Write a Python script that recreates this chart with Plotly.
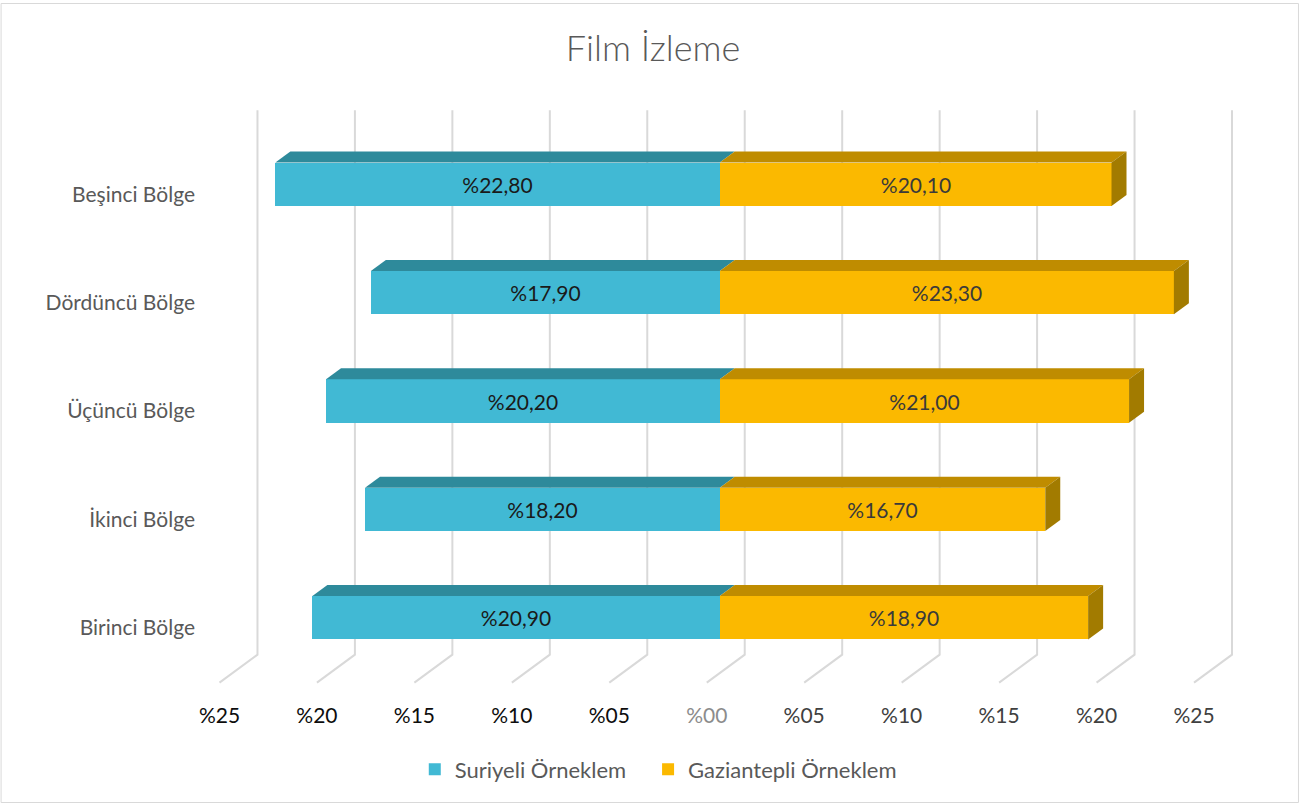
import plotly.graph_objects as go

categories = ["Birinci Bölge", "İkinci Bölge", "Üçüncü Bölge", "Dördüncü Bölge", "Beşinci Bölge"]
suriyeli = [20.9, 18.2, 20.2, 17.9, 22.8]
gaziantep = [18.9, 16.7, 21.0, 23.3, 20.1]
tick_vals = [-25, -20, -15, -10, -5, 0, 5, 10, 15, 20, 25]
tick_text = ["%25", "%20", "%15", "%10", "%05", "%00", "%05", "%10", "%15", "%20", "%25"]

W, H = 1301, 805
PXU_X = 19.5          # pixels per x unit
ZERO_PX = 720
PXU_Y = 108.5
X0, X1 = -(ZERO_PX - 190) / PXU_X, 27.0
Y0, Y1 = -0.75, 4.75
ml = ZERO_PX + X0 * PXU_X
mr = W - (ZERO_PX + X1 * PXU_X)
mt = 102.6
mb = H - (mt + (Y1 - Y0) * PXU_Y)

C_SUR, C_SUR_TOP = "#41B9D4", "#2E8A9B"
C_GAZ, C_GAZ_TOP, C_GAZ_SIDE = "#FBB900", "#BF8C00", "#A27B00"
FONT = "Lato"
BW = 0.4
DX, DY = 15 / PXU_X, 11 / PXU_Y

def fmt(v):
    return "%" + f"{v:.2f}".replace(".", ",")

ys = list(range(len(categories)))
fig = go.Figure()
fig.add_trace(go.Bar(
    y=ys, x=[-v for v in suriyeli], orientation="h", width=BW,
    marker=dict(color=C_SUR, line=dict(width=0)),
    name="Suriyeli Örneklem&nbsp;&nbsp;&nbsp;",
    text=[fmt(v) for v in suriyeli], textposition="inside", insidetextanchor="middle",
    textfont=dict(family=FONT, size=21, color="#1a1a1a"), hoverinfo="skip"))
fig.add_trace(go.Bar(
    y=ys, x=gaziantep, orientation="h", width=BW,
    marker=dict(color=C_GAZ, line=dict(width=0)), name="Gaziantepli Örneklem",
    text=[fmt(v) for v in gaziantep], textposition="inside", insidetextanchor="middle",
    textfont=dict(family=FONT, size=21, color="#3a3a3a"), hoverinfo="skip"))

shapes = []
# 3D gridlines: back wall vertical + floor diagonal
gx_back = 25 / PXU_X
gx_front = -13 / PXU_X
y_top = 4 + (184 - 110) / PXU_Y
y_back = (618 - 655) / PXU_Y
y_front = (618 - 683) / PXU_Y
for v in tick_vals:
    path = (f"M {v+gx_back},{y_top} L {v+gx_back},{y_back} "
            f"L {v+gx_front},{y_front}")
    shapes.append(dict(type="path", path=path, xref="x", yref="y",
                       line=dict(color="#D9D9D9", width=2), layer="below"))

for i, (s, g) in enumerate(zip(suriyeli, gaziantep)):
    top = i + BW / 2
    bot = i - BW / 2
    shapes.append(dict(type="path", xref="x", yref="y", layer="above", line=dict(width=0),
                       fillcolor=C_SUR_TOP,
                       path=f"M {-s},{top} L 0,{top} L {DX},{top+DY} L {-s+DX},{top+DY} Z"))
    shapes.append(dict(type="path", xref="x", yref="y", layer="above", line=dict(width=0),
                       fillcolor=C_GAZ_TOP,
                       path=f"M 0,{top} L {g},{top} L {g+DX},{top+DY} L {DX},{top+DY} Z"))
    shapes.append(dict(type="path", xref="x", yref="y", layer="above", line=dict(width=0),
                       fillcolor=C_GAZ_SIDE,
                       path=f"M {g},{bot} L {g},{top} L {g+DX},{top+DY} L {g+DX},{bot+DY} Z"))

pw = W - ml - mr
ph = H - mt - mb
shapes.append(dict(type="rect", xref="paper", yref="paper",
                   x0=(1 - ml) / pw, x1=(W - 2 - ml) / pw,
                   y0=-(H - 2 - mt - ph) / ph,
                   y1=1 + (mt - 3) / ph,
                   line=dict(color="#D9D9D9", width=1), layer="below"))

def tcol(v, t):
    if v < 0:
        return f"<span style='color:#0d0d0d'>{t}</span>"
    if v == 0:
        return f"<span style='color:#8c8c8c'>{t}</span>"
    return f"<span style='color:#404040'>{t}</span>"

ticktext_col = [tcol(v, t) for v, t in zip(tick_vals, tick_text)]

fig.update_layout(
    width=W, height=H,
    margin=dict(l=ml, r=mr, t=mt, b=mb, autoexpand=False),
    paper_bgcolor="white", plot_bgcolor="white",
    barmode="overlay", bargap=0,
    title=dict(text="Film İzleme", x=653 / W, xanchor="center", y=1 - 48 / H, yanchor="middle",
               font=dict(family=FONT, size=36, color="#595959", weight=300), automargin=False),
    xaxis=dict(range=[X0, X1], showgrid=False, zeroline=False, showline=False, automargin=False,
               tickvals=tick_vals, ticktext=ticktext_col, ticks="",
               tickfont=dict(family=FONT, size=21, color="#404040"),
               ticklabelshift=-13, ticklabelstandoff=2, fixedrange=True),
    yaxis=dict(range=[Y0, Y1], showgrid=False, zeroline=False, showline=False, automargin=False,
               tickvals=ys, ticktext=categories, ticks="",
               tickfont=dict(family=FONT, size=21, color="#595959"),
               ticklabelshift=10, ticklabelstandoff=-6, fixedrange=True),
    legend=dict(orientation="h", x=(658.5 - ml) / pw, xanchor="center",
                y=-(770 - (mt + ph)) / ph, yanchor="middle",
                font=dict(family=FONT, size=22, color="#595959"),
                itemsizing="constant", traceorder="normal", itemwidth=30),
    shapes=shapes,
    showlegend=True,
)

fig.write_html("out.html", config={"displayModeBar": False},
               post_script="document.body.style.margin='0';document.body.style.padding='0';")
